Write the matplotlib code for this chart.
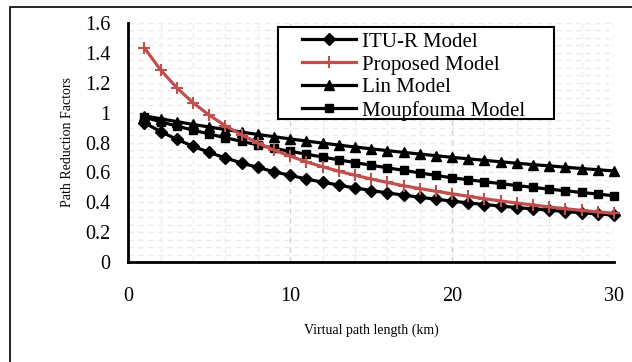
import matplotlib.pyplot as plt
from matplotlib.patches import Rectangle
from matplotlib.ticker import MultipleLocator

plt.rcParams['font.family'] = ['Liberation Serif', 'DejaVu Serif']

# path length (km)
distance = list(range(1, 31))

itu_r = [0.932, 0.873, 0.821, 0.775, 0.734, 0.697, 0.663, 0.633, 0.605, 0.580,
         0.556, 0.535, 0.515, 0.496, 0.479, 0.463, 0.448, 0.434, 0.421, 0.408,
         0.396, 0.385, 0.375, 0.365, 0.356, 0.347, 0.338, 0.330, 0.322, 0.315]

proposed = [1.433, 1.285, 1.166, 1.066, 0.983, 0.912, 0.851, 0.797, 0.750, 0.709,
            0.671, 0.638, 0.608, 0.581, 0.556, 0.533, 0.511, 0.492, 0.474, 0.457,
            0.440, 0.424, 0.409, 0.395, 0.382, 0.369, 0.357, 0.346, 0.336, 0.326]

lin = [0.979, 0.959, 0.940, 0.921, 0.904, 0.887, 0.870, 0.854, 0.839, 0.824,
       0.810, 0.796, 0.783, 0.770, 0.758, 0.746, 0.734, 0.723, 0.712, 0.701,
       0.691, 0.681, 0.671, 0.662, 0.652, 0.644, 0.635, 0.626, 0.618, 0.610]

moupfouma = [0.970, 0.939, 0.910, 0.883, 0.857, 0.832, 0.808, 0.784, 0.761, 0.741,
             0.722, 0.703, 0.684, 0.666, 0.648, 0.631, 0.614, 0.597, 0.580, 0.564,
             0.551, 0.538, 0.525, 0.512, 0.500, 0.488, 0.477, 0.466, 0.455, 0.444]

W, H = 632, 362
fig = plt.figure(figsize=(W / 100, H / 100), dpi=100)
ax = fig.add_axes([0.203, 0.276, 0.7685, 0.6605])

# outer frame around the chart area
fig.patches.append(Rectangle((10 / W, -0.01), 1.0, 1 - 7 / H + 0.01,
                             transform=fig.transFigure, fill=False,
                             edgecolor='black', linewidth=1.2))

ax.plot(distance, itu_r, color='black', lw=2.3, marker='D', ms=6,
        label='ITU-R Model', clip_on=False, zorder=4)
ax.plot(distance, proposed, color='#C0504D', lw=2.3, marker='+', ms=8, mew=1.5,
        label='Proposed Model', clip_on=False, zorder=5)
ax.plot(distance, lin, color='black', lw=2.3, marker='^', ms=7,
        label='Lin Model', clip_on=False, zorder=4)
ax.plot(distance, moupfouma, color='black', lw=2.3, marker='s', ms=6,
        label='Moupfouma Model', clip_on=False, zorder=4)

ax.set_xlim(0, 30)
ax.set_ylim(0, 1.6)
ax.xaxis.set_major_locator(MultipleLocator(10))
ax.xaxis.set_minor_locator(MultipleLocator(2))
ax.yaxis.set_minor_locator(MultipleLocator(0.05))
ax.set_yticks([0, 0.2, 0.4, 0.6, 0.8, 1.0, 1.2, 1.4, 1.6])
ax.set_yticklabels(['0', '0.2', '0.4', '0.6', '0.8', '1', '1.2', '1.4', '1.6'])

ax.grid(which='minor', color='#ECECEC', linestyle=(0, (4, 3)), lw=1)
ax.grid(which='major', axis='y', color='#ECECEC', linestyle=(0, (4, 3)), lw=1)
ax.grid(which='major', axis='x', color='#D0D0D0', linestyle=(0, (4, 3)), lw=1)
ax.set_axisbelow(True)

ax.tick_params(which='both', length=0)
ax.tick_params(axis='x', labelsize=14.5, pad=18)
ax.tick_params(axis='y', labelsize=14.5, pad=13)

for side in ['top', 'right']:
    ax.spines[side].set_visible(False)
for side in ['left', 'bottom']:
    ax.spines[side].set_linewidth(2)

ax.set_xlabel('Virtual path length (km)', fontsize=10)
ax.xaxis.set_label_coords(0.5, -0.255)
ax.set_ylabel('Path Reduction Factors', fontsize=10)
ax.yaxis.set_label_coords(-0.112, 0.5)

# legend box drawn separately so it can be wider than its entries
ax.add_patch(Rectangle((278 / W, 1 - 119 / H), (554 - 278) / W, 92 / H,
                       transform=fig.transFigure, facecolor='white',
                       edgecolor='black', linewidth=1.5, zorder=6,
                       clip_on=False))
leg = ax.legend(loc='upper left', bbox_to_anchor=(300 / W, 1 - 30 / H),
                bbox_transform=fig.transFigure, borderaxespad=0, fontsize=15,
                frameon=False, handlelength=2.6, handletextpad=0.3,
                labelspacing=0.16, borderpad=0.1)
leg.set_zorder(7)

fig.savefig('out.png', dpi=100)
